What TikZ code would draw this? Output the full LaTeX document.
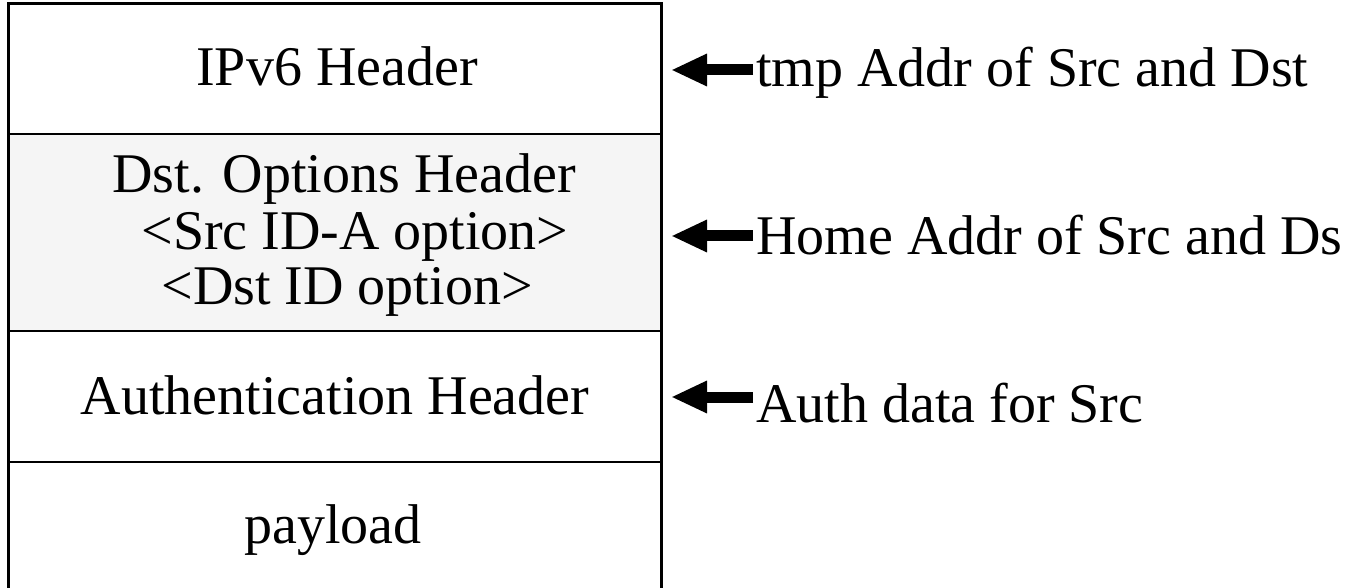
\documentclass[tikz,border=0pt]{standalone}
\usepackage{fontspec}
\setmainfont{Liberation Serif}
\usetikzlibrary{arrows.meta}
\begin{document}
\begin{tikzpicture}[x=1pt,y=-1pt]
  \tikzset{txt/.style={inner sep=0pt, anchor=base, font=\fontsize{56}{56}\selectfont},
           note/.style={txt, anchor=base west},
           fatarrow/.style={line width=11pt, -{Triangle[length=36pt 0 0,width=30pt 0 0]}}}
    \useasboundingbox (0,0) rectangle (1361,588);
    \clip (0,0) rectangle (1361,588);

    % header stack
    \fill[black!4] (8,134) rectangle (661,331);
    \draw[line width=2pt] (8,134) -- (661,134);
    \draw[line width=2pt] (8,331) -- (661,331);
    \draw[line width=2pt] (8,462) -- (661,462);
    \draw[line width=3pt] (8,4) rectangle (661,600);

    \node[txt] at (337,86) (ipv6) {IPv6 Header};
    \node[txt] at (344,193) (dstopt) {Dst. Options Header};
    \node[txt] at (355,250) (srcid) {<Src ID-A option>};
    \node[txt] at (347,305) (dstid) {<Dst ID option>};
    \node[txt] at (335,414) (auth) {Authentication Header};
    \node[txt] at (333,543) (payload) {payload};

    % notes on the right
    \node[note] at (756,87) (tmpaddr) {tmp Addr of Src and Dst};
    \node[note] at (756,255) (homeaddr) {Home Addr of Src and Ds};
    \node[note] at (756,422) (authdata) {Auth data for Src};

    \coordinate (t_1) at (671,70);
    \coordinate (t_2) at (671,236);
    \coordinate (t_3) at (671,397);
    \draw[fatarrow] ([xshift=-3pt]tmpaddr.west |- t_1) -- (t_1);
    \draw[fatarrow] ([xshift=-3pt]homeaddr.west |- t_2) -- (t_2);
    \draw[fatarrow] ([xshift=-3pt]authdata.west |- t_3) -- (t_3);
  \end{tikzpicture}
\end{document}
